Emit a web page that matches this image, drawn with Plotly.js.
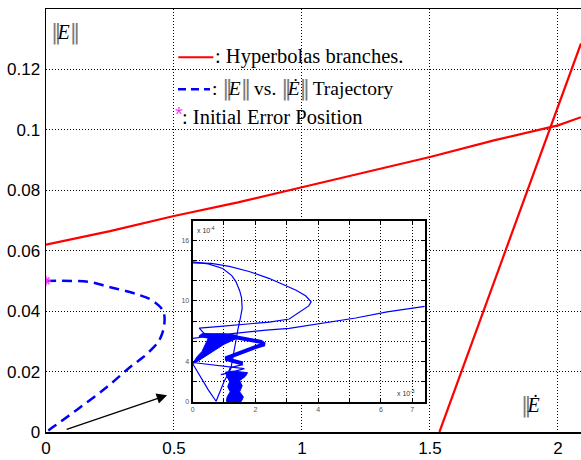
<!DOCTYPE html>
<html><head><meta charset="utf-8">
<script src="https://cdn.plot.ly/plotly-3.0.1.min.js"></script>
<style>html,body{margin:0;padding:0;background:#fff}#chart{width:581px;height:460px}</style>
</head><body><div id="chart"></div>
<script>
// ---- Main chart data ----
const hyp1X = [0, 0.25, 0.5, 0.75, 1.0, 1.25, 1.5, 1.75, 2.0, 2.09];
const hyp1Y = [0.062, 0.0665, 0.0715, 0.076, 0.081, 0.086, 0.091, 0.0965, 0.1015, 0.1042];
const hyp2X = [1.537, 1.837, 1.974, 2.09];
const hyp2Y = [0.0, 0.0699, 0.1018, 0.1286];
const trajX = [0, 0.1, 0.173, 0.251, 0.32, 0.369, 0.41, 0.44, 0.458, 0.463, 0.461, 0.454, 0.44, 0.421, 0.38, 0.329, 0.238, 0.12, 0.05, 0.009, 0];
const trajY = [0.05, 0.05, 0.0496, 0.0479, 0.0465, 0.0452, 0.0438, 0.0419, 0.040, 0.038, 0.035, 0.0326, 0.030, 0.0281, 0.0248, 0.0215, 0.0149, 0.0073, 0.003, 0.0005, 0];
const initX = [0];
const initY = [0.05];
const arrowFrom = [0.075, 0.0007];
const arrowTo = [0.473, 0.0122];
const xTicks = [0, 0.5, 1, 1.5, 2];
const yTicks = [0, 0.02, 0.04, 0.06, 0.08, 0.1, 0.12];

// ---- Inset data (x in 1e-3, y in 1e-4), null separates strokes ----
const insetLineX = [
  7.4, 6.2, 5.2, 4.1, 3.08, 2.34, 1.5, 0.8, 0.3, 0, null,
  0, 0.6, 1.17, 1.8, 2.45, 2.9, 3.3, 3.6, 3.78, 3.7, 3.4, 3.08, 2.45, 1.5, 0.8, 0.21, 0.37, 0.9, 1.3, null,
  0, 0.5, 0.96, 1.25, 1.38, 1.5, 1.56, 1.58, 1.53, 1.49, 1.44, 1.4, 1.35, 1.28, 1.22, 1.0, 0.75, 0.5, 0.25, 0, null,
  0, 0.6, 1.2, 1.65, 1.2, 0.9, null,
  1.05, 1.3, 1.6, 1.2, 1.1, 1.45, 1.65
];
const insetLineY = [
  9.45, 8.9, 8.3, 7.75, 7.27, 7.1, 6.85, 6.6, 6.4, 6.28, null,
  13.75, 13.7, 13.4, 12.9, 12.2, 11.6, 11.05, 10.5, 9.9, 9.5, 8.9, 8.2, 7.9, 7.6, 7.45, 7.3, 6.77, 6.55, 6.45, null,
  13.85, 13.65, 13.2, 12.5, 11.9, 11.0, 10.3, 9.25, 8.4, 7.9, 7.1, 6.4, 5.5, 4.5, 3.3, 2.0, 0.07, 1.2, 2.5, 3.8, null,
  3.9, 3.7, 3.5, 3.3, 2.9, 2.7, null,
  4.3, 4.0, 3.7, 3.4, 2.6, 2.55, 2.4
];
const armX = [1.28, 1.8, 2.18, 2.29, 2.02, 1.6, 1.17, 1.05, 1.3, 1.6];
const armY = [6.45, 6.15, 5.94, 5.7, 5.45, 4.95, 4.5, 4.3, 4.05, 3.8];
const wedgeX = [0, 0.15, 0.3, 0.4, 0.5, 0.2, 0.3, 1.0, 1.4, 1.35, 1.0, 0.7, 0.4, 0.15, 0];
const wedgeY = [3.8, 4.5, 5.0, 5.6, 6.3, 6.5, 6.75, 6.75, 6.6, 6.2, 5.7, 5.1, 4.5, 4.0, 3.8];
const blobX = [1.08, 1.55, 1.62, 1.5, 1.58, 1.5, 1.7, 1.75, 1.3, 1.05, 1.1, 1.18, 1.12, 1.2, 1.1, 1.08];
const blobY = [0.05, 0.05, 0.5, 1.0, 1.6, 2.1, 2.6, 2.9, 3.05, 2.95, 2.5, 2.0, 1.5, 1.0, 0.5, 0.05];
const insetXRange = [0, 7.4];
const insetYRange = [0, 17.9];
const insetXTicks = [0, 1, 2, 3, 4, 5, 6, 7];
const insetXTickText = ['0', ' ', '2', ' ', '4', ' ', '6', '7'];
const insetYTicks = [0, 2, 4, 6, 8, 10, 12, 14, 16];
const insetYTickText = ['0', ' ', '4', ' ', ' ', '10', ' ', ' ', '16'];

const BLUE = '#0000ff', RED = '#ff0000', MAG = '#ff33ff', GRAY = '#7a7a7a';
const SERIF = 'Liberation Serif, Times New Roman, serif';
const SANS = 'Liberation Sans, Arial, sans-serif';

const traces = [
  {x: hyp1X, y: hyp1Y, mode: 'lines', line: {color: RED, width: 2.2}, xaxis: 'x', yaxis: 'y'},
  {x: hyp2X, y: hyp2Y, mode: 'lines', line: {color: RED, width: 2.2}, xaxis: 'x', yaxis: 'y'},
  {x: trajX, y: trajY, mode: 'lines', line: {color: BLUE, width: 2.5, dash: '10px,6px', shape: 'spline'}, xaxis: 'x', yaxis: 'y'},
  {x: initX, y: initY, mode: 'markers', marker: {symbol: 'asterisk-open', color: MAG, size: 8, line: {color: MAG, width: 1.5}}, xaxis: 'x', yaxis: 'y'},
  // inset
  {x: wedgeX, y: wedgeY, mode: 'lines', fill: 'toself', fillcolor: BLUE, line: {color: BLUE, width: 1}, xaxis: 'x2', yaxis: 'y2'},
  {x: blobX, y: blobY, mode: 'lines', fill: 'toself', fillcolor: BLUE, line: {color: BLUE, width: 1}, xaxis: 'x2', yaxis: 'y2'},
  {x: armX, y: armY, mode: 'lines', line: {color: BLUE, width: 4}, xaxis: 'x2', yaxis: 'y2'},
  {x: insetLineX, y: insetLineY, mode: 'lines', connectgaps: false, line: {color: BLUE, width: 1.2}, xaxis: 'x2', yaxis: 'y2'}
];

const gridStyle = {showgrid: true, gridcolor: '#000', griddash: '1px,2px', gridwidth: 1, zeroline: false};

// norm bars: tall grey double bar, tightened so the glyph stays narrow
const barL = `<span style="color:${GRAY};font-family:DejaVu Sans;font-size:21px;letter-spacing:-4px">‖</span>`;
const barR = `<span style="color:${GRAY};font-family:DejaVu Sans;font-size:21px;letter-spacing:-2px">‖</span>`;

const layout = {
  width: 581, height: 460,
  margin: {l: 46, r: 0, t: 9, b: 28},
  paper_bgcolor: '#fff', plot_bgcolor: '#fff',
  showlegend: false,
  xaxis: Object.assign({}, gridStyle, {
    range: [0, 2.09], tickvals: xTicks, showline: true, linecolor: '#000', linewidth: 1.5, mirror: true,
    ticks: '', tickfont: {family: SANS, size: 17, color: '#000'}, domain: [0, 1], anchor: 'y'
  }),
  yaxis: Object.assign({}, gridStyle, {
    range: [0, 0.14], tickvals: yTicks, showline: true, linecolor: '#000', linewidth: 1.5, mirror: false,
    ticks: '', tickfont: {family: SANS, size: 17, color: '#000'}, domain: [0, 1], anchor: 'x', ticklabelstandoff: 1
  }),
  xaxis2: Object.assign({}, gridStyle, {
    range: insetXRange, tickvals: insetXTicks, ticktext: insetXTickText, anchor: 'y2',
    domain: [0.274, 0.708], showline: true, linecolor: '#000', linewidth: 2, mirror: 'ticks',
    ticks: 'inside', ticklen: 3, tickcolor: '#000', tickfont: {family: SANS, size: 7, color: '#555'}
  }),
  yaxis2: Object.assign({}, gridStyle, {
    range: insetYRange, tickvals: insetYTicks, ticktext: insetYTickText, anchor: 'x2',
    domain: [0.071, 0.499], showline: true, linecolor: '#000', linewidth: 2, mirror: 'ticks',
    ticks: 'inside', ticklen: 3, tickcolor: '#000', tickfont: {family: SANS, size: 7, color: '#555'}
  }),
  shapes: [
    {type: 'rect', xref: 'x2', yref: 'y2', x0: insetXRange[0], x1: insetXRange[1], y0: insetYRange[0], y1: insetYRange[1],
     fillcolor: '#fff', line: {width: 0}, layer: 'below'},
    {type: 'line', xref: 'paper', yref: 'paper', x0: 0.2473, x1: 0.3127, y0: 0.8858, y1: 0.8858, line: {color: RED, width: 2}},
    {type: 'line', xref: 'paper', yref: 'paper', x0: 0.2467, x1: 0.3065, y0: 0.8102, y1: 0.8102, line: {color: BLUE, width: 2.5, dash: '8px,5px'}}
  ],
  annotations: [
    {xref: 'x', yref: 'y', x: arrowTo[0], y: arrowTo[1], ax: arrowFrom[0], ay: arrowFrom[1], axref: 'x', ayref: 'y',
     text: '', showarrow: true, arrowhead: 2, arrowsize: 1.6, arrowwidth: 1.3, arrowcolor: '#000'},
    {xref: 'paper', yref: 'paper', x: 0.312, y: 0.888, xanchor: 'left', yanchor: 'middle', showarrow: false,
     text: ': Hyperbolas branches.', font: {family: SERIF, size: 20.5, color: '#000'}},
    {xref: 'paper', yref: 'paper', x: 0.307, y: 0.812, xanchor: 'left', yanchor: 'middle', showarrow: false,
     text: ': ' + barL + '<i>E</i>' + barR + ' vs. ' + barL + '<i>Ė</i>' + barR + ' Trajectory',
     font: {family: SERIF, size: 19.5, color: '#000'}},
    {xref: 'paper', yref: 'paper', x: 0.2486, y: 0.751, xanchor: 'center', yanchor: 'middle', showarrow: false,
     text: '*', font: {family: SANS, size: 20, color: MAG}},
    {xref: 'paper', yref: 'paper', x: 0.251, y: 0.745, xanchor: 'left', yanchor: 'middle', showarrow: false,
     text: ': Initial Error Position', font: {family: SERIF, size: 20.5, color: '#000'}},
    {xref: 'paper', yref: 'paper', x: 0.0355, y: 0.9456, xanchor: 'center', yanchor: 'middle', showarrow: false,
     text: barL + '<i>E</i>' + barR, font: {family: SERIF, size: 20, color: '#000'}},
    {xref: 'paper', yref: 'paper', x: 0.9047, y: 0.0638, xanchor: 'center', yanchor: 'middle', showarrow: false,
     text: barL + '<i>Ė</i>', font: {family: SERIF, size: 20, color: '#000'}},
    {xref: 'x2 domain', yref: 'y2 domain', x: 0.01, y: 0.985, xanchor: 'left', yanchor: 'top', showarrow: false,
     text: 'x 10<sup>-4</sup>', font: {family: SANS, size: 7, color: '#333'}},
    {xref: 'x2 domain', yref: 'y2 domain', x: 0.965, y: 0.015, xanchor: 'right', yanchor: 'bottom', showarrow: false,
     text: 'x 10<sup>-3</sup>', font: {family: SANS, size: 7, color: '#333'}}
  ]
};

Plotly.newPlot('chart', traces, layout, {displayModeBar: false, staticPlot: true});
</script>
</body></html>
